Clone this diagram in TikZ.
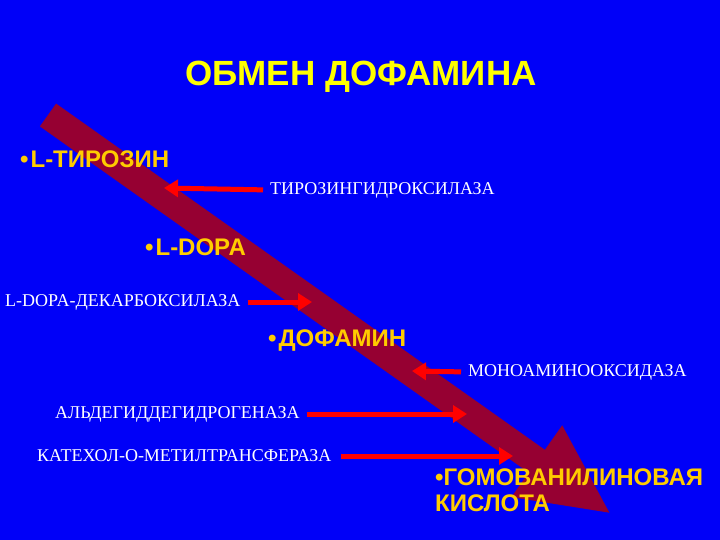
\documentclass[tikz,border=0pt]{standalone}
\usepackage{fontspec}
\setmainfont{Liberation Serif}
\newfontfamily\hdrfont{Liberation Sans}
\usetikzlibrary{arrows.meta}
\definecolor{bgblue}{RGB}{0,0,248}
\definecolor{shaft}{RGB}{150,0,50}
\definecolor{itemyel}{RGB}{255,204,0}
\definecolor{ttlyel}{RGB}{255,255,0}
\tikzset{ hdr/.style = { text         = ttlyel
                       , inner sep    = 0pt
                       , font         = \hdrfont\bfseries\fontsize{35}{38}\selectfont
                       },
          sub/.style = { text         = itemyel
                       , anchor       = west
                       , inner sep    = 0pt
                       , align        = left
                       , font         = \hdrfont\bfseries\fontsize{24}{26}\selectfont
                       },
          enz/.style = { text         = white
                       , anchor       = west
                       , inner sep    = 0pt
                       , font         = \fontsize{18}{20}\selectfont
                       },
           ra/.style = { draw         = red
                       , line width   = 5pt
                       , -{Triangle[length=14pt,width=17pt]}
                       }
        }

\begin{document}
\begin{tikzpicture}[x=1pt,y=-1pt]
    \fill[bgblue] (0,0) rectangle (720,540);
    % big arrow
    \fill[shaft] (56.1,103.6) -- (544.9,449.8) -- (562.2,425.3) -- (609.4,512.7)
                 -- (511.4,497.1) -- (528.7,472.6) -- (39.9,126.4) -- cycle;

    \node[hdr] (title) at (361,77) {ОБМЕН ДОФАМИНА};

    \node[sub] (tyr)  at (20,159)  {•\hspace{2pt}L-ТИРОЗИН};
    \node[sub] (dopa) at (145,247) {•\hspace{2pt}L-DOPA};
    \node[sub] (dof)  at (268,341) {•\hspace{2pt}ДОФАМИН};
    \node[sub] (hva)  at (435,490) {•ГОМОВАНИЛИНОВАЯ\\КИСЛОТА};

    \node[enz] (th)   at (270,190) {ТИРОЗИНГИДРОКСИЛАЗА};
    \node[enz] (ddc)  at (5,302)   {L-DOPA-ДЕКАРБОКСИЛАЗА};
    \node[enz] (mao)  at (468,372) {МОНОАМИНООКСИДАЗА};
    \node[enz] (aldh) at (55,414)  {АЛЬДЕГИДДЕГИДРОГЕНАЗА};
    \node[enz] (comt) at (37,456)  {КАТЕХОЛ-О-МЕТИЛТРАНСФЕРАЗА};

    \coordinate (p1) at (164,188);
    \coordinate (p2) at (312,303);
    \coordinate (p3) at (412,371);
    \coordinate (p4) at (467,416);
    \coordinate (p5) at (513,450);

    \draw[ra, shorten <=7pt] (th.west)   -- (p1);
    \draw[ra, shorten <=7pt] (ddc.east)  -- (ddc.east -| p2);
    \draw[ra, shorten <=7pt] (mao.west)  -- (p3);
    \draw[ra, shorten <=7pt] (aldh.east) -- (aldh.east -| p4);
    \draw[ra, shorten <=9pt] (comt.east) -- (comt.east -| p5);
\end{tikzpicture}
\end{document}
